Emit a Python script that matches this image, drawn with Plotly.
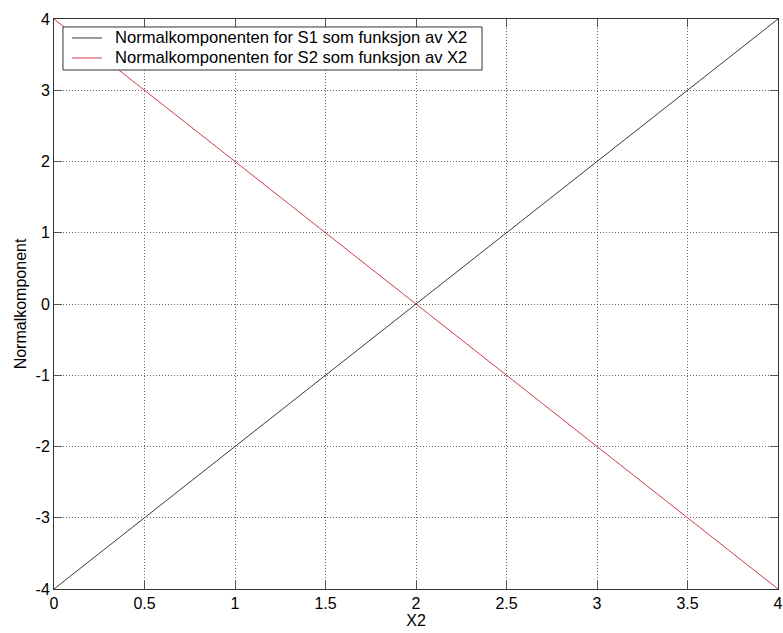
import plotly.graph_objects as go

x2 = [0, 0.5, 1, 1.5, 2, 2.5, 3, 3.5, 4]
s1 = [-4, -3, -2, -1, 0, 1, 2, 3, 4]
s2 = [4, 3, 2, 1, 0, -1, -2, -3, -4]
xticks = [0, 0.5, 1, 1.5, 2, 2.5, 3, 3.5, 4]
yticks = [-4, -3, -2, -1, 0, 1, 2, 3, 4]
names = ["Normalkomponenten for S1 som funksjon av X2",
         "Normalkomponenten for S2 som funksjon av X2"]
colors = ["#3a3a3a", "#d43a4a"]

fig = go.Figure()
fig.add_trace(go.Scatter(x=x2, y=s1, mode="lines", line=dict(color=colors[0], width=1),
                         name=names[0], showlegend=False))
fig.add_trace(go.Scatter(x=x2, y=s2, mode="lines", line=dict(color=colors[1], width=1),
                         name=names[1], showlegend=False))

FAM = "Liberation Sans, Arial, sans-serif"
tickfont = dict(family=FAM, size=16, color="black")
legfont = dict(family=FAM, size=16.6, color="black")

# legend box (MATLAB-style), positioned in paper coordinates
box = dict(x0=0.0124, x1=0.5912, y0=0.9105, y1=0.9860)
fig.add_shape(type="rect", xref="paper", yref="paper", layer="above",
              fillcolor="white", line=dict(color="#333333", width=1), **box)
entry_y = [0.9667, 0.9316]
for nm, col, yy in zip(names, colors, entry_y):
    fig.add_shape(type="line", xref="paper", yref="paper", layer="above",
                  x0=0.0249, x1=0.0663, y0=yy, y1=yy, line=dict(color=col, width=1))
    fig.add_annotation(xref="paper", yref="paper", x=0.0815, y=yy, text=nm,
                       showarrow=False, xanchor="left", yanchor="middle", font=legfont)

axis_common = dict(showline=True, linecolor="#333333", linewidth=1, mirror="ticks",
                   ticks="inside", ticklen=8, tickcolor="#555555",
                   showgrid=True, gridcolor="#666666", griddash="1px,2px", gridwidth=1,
                   zeroline=False, tickfont=tickfont, automargin=False)
fig.update_layout(
    width=783, height=633,
    margin=dict(l=54, r=5, t=19, b=44),
    paper_bgcolor="white", plot_bgcolor="white",
    font=tickfont,
    showlegend=False,
    xaxis=dict(range=[0, 4], tickvals=xticks, ticktext=[f"{v:g}" for v in xticks],
               title=dict(text="X2", font=tickfont, standoff=3), **axis_common),
    yaxis=dict(range=[-4, 4], tickvals=yticks, ticktext=[f"{v:g}" for v in yticks],
               title=dict(text="Normalkomponent", font=tickfont, standoff=4), **axis_common),
)
fig.write_html("out.html", config={"displayModeBar": False},
               post_script="document.body.style.margin='0';document.body.style.overflow='hidden';")
